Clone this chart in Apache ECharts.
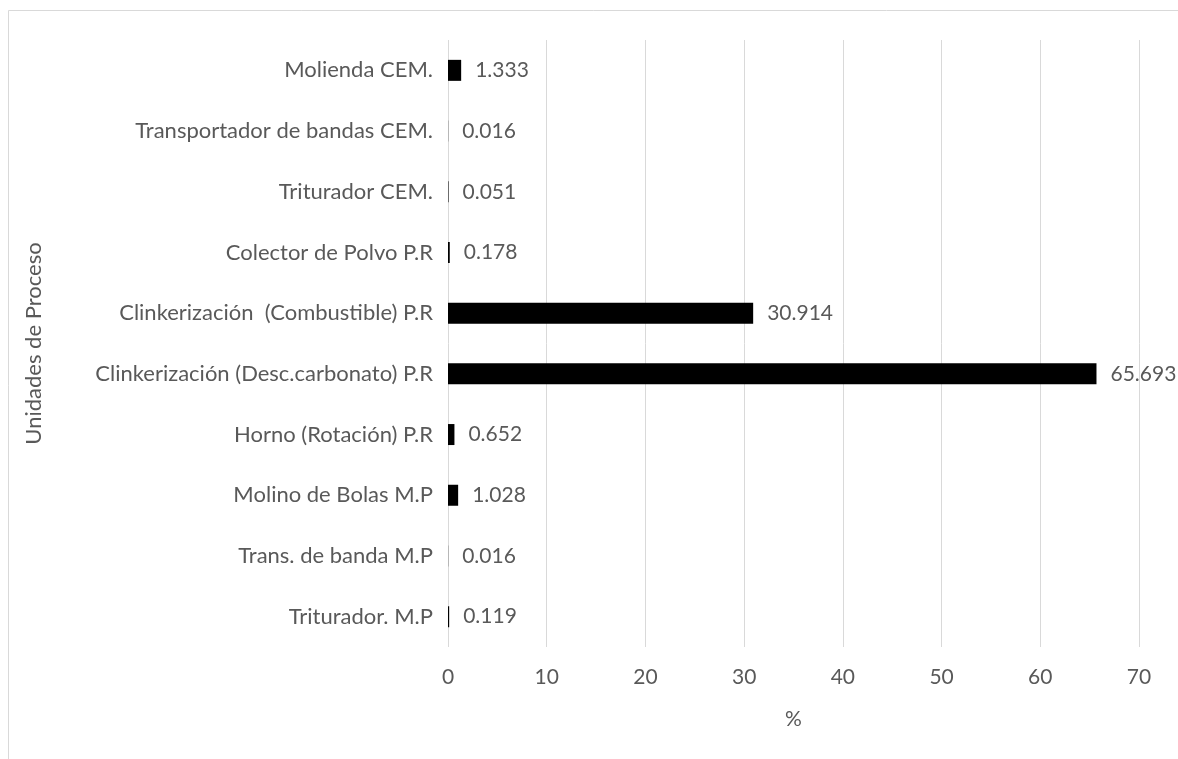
<!DOCTYPE html>
<html>
<head>
<meta charset="utf-8">
<script src="https://cdn.jsdelivr.net/npm/echarts@6/dist/echarts.min.js"></script>
<style>
  html, body { margin: 0; padding: 0; background: #fff; }
  #chart { width: 1178px; height: 759px; }
</style>
</head>
<body>
<div id="chart"></div>
<script>
// categorías de abajo hacia arriba (orden del eje Y)
const categories = [
  'Triturador. M.P',
  'Trans. de banda M.P',
  'Molino de Bolas M.P',
  'Horno (Rotación) P.R',
  'Clinkerización (Desc.carbonato) P.R',
  'Clinkerización  (Combustible) P.R',
  'Colector de Polvo P.R',
  'Triturador CEM.',
  'Transportador de bandas CEM.',
  'Molienda CEM.'
]
const values = [0.119, 0.016, 1.028, 0.652, 65.693, 30.914, 0.178, 0.051, 0.016, 1.333]
const labels = ['0.119', '0.016', '1.028', '0.652', '65.693', '30.914', '0.178', '0.051', '0.016', '1.333']

const FONT = 'Lato'
const TEXT = '#595959'
const GRID = '#d9d9d9'

const chart = echarts.init(document.getElementById('chart'))

chart.setOption({
  animation: false,
  backgroundColor: '#fff',
  graphic: [{
    type: 'rect',
    shape: { x: 8.5, y: 10.5, width: 1300, height: 900 },
    style: { fill: 'none', stroke: GRID, lineWidth: 1 },
    silent: true
  }],
  grid: { left: 448, right: 39, top: 40, bottom: 112 },
  xAxis: {
    type: 'value',
    min: 0,
    max: 70,
    interval: 10,
    name: '%',
    nameLocation: 'middle',
    nameGap: 62,
    nameTextStyle: { fontFamily: FONT, fontSize: 21, color: TEXT },
    axisLine: { show: false },
    axisTick: { show: false },
    axisLabel: { fontFamily: FONT, fontSize: 21, color: TEXT, margin: 20 },
    splitLine: { show: true, lineStyle: { color: GRID, width: 1 } }
  },
  yAxis: {
    type: 'category',
    data: categories,
    name: 'Unidades de Proceso',
    nameLocation: 'middle',
    nameGap: 403,
    nameRotate: 90,
    nameTextStyle: { fontFamily: FONT, fontSize: 22, color: TEXT },
    axisLine: { show: false },
    axisTick: { show: false },
    axisLabel: { fontFamily: FONT, fontSize: 22, color: TEXT, margin: 15 }
  },
  series: [{
    type: 'bar',
    data: values,
    barWidth: 21,
    itemStyle: { color: '#000' },
    label: {
      show: true,
      position: 'right',
      distance: 14,
      fontFamily: FONT,
      fontSize: 21,
      color: TEXT,
      formatter: p => labels[p.dataIndex]
    }
  }]
})
</script>
</body>
</html>
